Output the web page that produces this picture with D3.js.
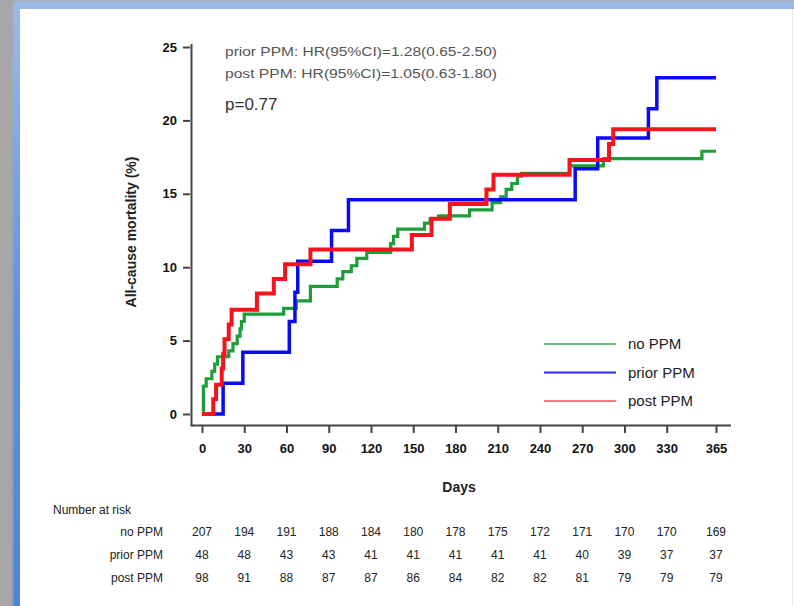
<!DOCTYPE html>
<html>
<head>
<meta charset="utf-8">
<script src="https://cdn.jsdelivr.net/npm/d3@7"></script>
<style>
  body { margin: 0; background: #fff; }
  svg { display: block; font-family: "Liberation Sans", Arial, sans-serif; }
</style>
</head>
<body>
<svg id="chart" width="794" height="606"></svg>
<script>
// ---- data ----
const dayTicks = [0, 30, 60, 90, 120, 150, 180, 210, 240, 270, 300, 330, 365];
const pctTicks = [0, 5, 10, 15, 20, 25];
const groups = ["no PPM", "prior PPM", "post PPM"];
const groupColors = ["#1e9e38", "#0a0af5", "#f5141e"];

// [day, cumulative mortality %]
const noPPM = [[0, 0], [1, 1.9], [3, 2.4], [7, 2.9], [9, 3.4], [11, 3.9], [19, 4.3], [22, 4.8],
  [25, 5.3], [27, 5.8], [28, 6.3], [30, 6.8], [58, 7.2], [67, 7.7], [77, 8.7], [96, 9.2],
  [100, 9.7], [106, 10.1], [110, 10.6], [117, 11.0], [134, 11.6], [136, 12.1], [139, 12.6],
  [158, 13.0], [162, 13.3], [168, 13.5], [190, 13.9], [206, 14.4], [212, 14.8], [216, 15.3],
  [220, 15.7], [224, 16.2], [227, 16.4], [261, 16.9], [285, 17.4], [355, 17.9], [365, 17.9]];
const priorPPM = [[0, 0], [15, 2.1], [29, 4.2], [62, 6.3], [66, 8.3], [68, 10.4], [92, 12.5],
  [104, 14.6], [265, 16.7], [281, 18.8], [317, 20.8], [323, 22.9], [365, 22.9]];
const postPPM = [[0, 0], [8, 1.0], [10, 2.0], [14, 3.1], [15, 4.1], [16, 5.1], [19, 6.1],
  [21, 7.1], [39, 8.2], [51, 9.2], [59, 10.2], [77, 11.2], [149, 12.2], [163, 13.3],
  [176, 14.3], [202, 15.3], [207, 16.3], [261, 17.3], [289, 18.4], [292, 19.4], [365, 19.4]];

const atRiskNo = [207, 194, 191, 188, 184, 180, 178, 175, 172, 171, 170, 170, 169];
const atRiskPrior = [48, 48, 43, 43, 41, 41, 41, 41, 41, 40, 39, 37, 37];
const atRiskPost = [98, 91, 88, 87, 87, 86, 84, 82, 82, 81, 79, 79, 79];

const hrLines = ["prior PPM:  HR(95%CI)=1.28(0.65-2.50)", "post PPM:  HR(95%CI)=1.05(0.63-1.80)"];
const pText = "p=0.77";

// ---- layout ----
const svg = d3.select("#chart");

// window frame around the figure
const defs = svg.append("defs");
const grad = defs.append("linearGradient").attr("id", "topband")
  .attr("x1", 0).attr("y1", 0).attr("x2", 0).attr("y2", 1);
grad.append("stop").attr("offset", "0").attr("stop-color", "#9dbbe8");
grad.append("stop").attr("offset", "0.5").attr("stop-color", "#5f93dc");
grad.append("stop").attr("offset", "1").attr("stop-color", "#4d84d6");
defs.append("filter").attr("id", "soft")
  .append("feGaussianBlur").attr("stdDeviation", 1.2);

svg.append("rect").attr("width", 794).attr("height", 606).attr("fill", "#a7a7a7");
svg.append("rect").attr("x", 13).attr("y", 1).attr("width", 800).attr("height", 620)
  .attr("rx", 4).attr("fill", "url(#topband)").attr("filter", "url(#soft)");
svg.append("rect").attr("x", 20).attr("y", 9).attr("width", 774).attr("height", 597)
  .attr("fill", "#fff");
svg.append("line").attr("x1", 792.5).attr("x2", 792.5).attr("y1", 9).attr("y2", 606)
  .attr("stroke", "#e6e6e6");

const x = d3.scaleLinear().domain([0, 365]).range([202, 716]);
const y = d3.scaleLinear().domain([0, 25]).range([414, 47]);

// axes
const axisColor = "#444";
svg.append("line").attr("x1", 191.5).attr("x2", 191.5).attr("y1", 44).attr("y2", 425.5)
  .attr("stroke", axisColor).attr("stroke-width", 2);
svg.append("line").attr("x1", 190.5).attr("x2", 731).attr("y1", 425.5).attr("y2", 425.5)
  .attr("stroke", axisColor).attr("stroke-width", 2);

const yAxis = svg.append("g").attr("transform", "translate(190,0)")
  .call(d3.axisLeft(y).tickValues(pctTicks).tickSize(7).tickPadding(6));
const xAxis = svg.append("g").attr("transform", "translate(0,426)")
  .call(d3.axisBottom(x).tickValues(dayTicks).tickSize(7).tickPadding(11));
[yAxis, xAxis].forEach(g => {
  g.select(".domain").remove();
  g.selectAll(".tick line").attr("stroke", axisColor).attr("stroke-width", 2);
  g.selectAll(".tick text").attr("fill", "#111").attr("font-size", 13)
    .attr("font-weight", "bold").attr("font-family", "Liberation Sans, Arial, sans-serif");
});

svg.append("text").attr("x", 459).attr("y", 492).attr("text-anchor", "middle")
  .attr("font-size", 14).attr("font-weight", "bold").attr("fill", "#222").text("Days");
svg.append("text").attr("transform", "translate(136,232) rotate(-90)")
  .attr("text-anchor", "middle").attr("font-size", 14).attr("font-weight", "bold")
  .attr("fill", "#222").text("All-cause mortality (%)");

// annotations
svg.selectAll("text.hr").data(hrLines).enter().append("text").attr("class", "hr")
  .attr("x", 225).attr("y", (d, i) => 56 + i * 22)
  .attr("font-size", 12).attr("fill", "#555")
  .attr("textLength", 272).attr("lengthAdjust", "spacingAndGlyphs").text(d => d);
svg.append("text").attr("x", 225).attr("y", 110).attr("font-size", 17)
  .attr("fill", "#333").text(pText);

// curves
const series = [noPPM, priorPPM, postPPM];
const widths = [3.2, 3.5, 4];
const line = d3.line().x(d => x(d[0])).y(d => y(d[1])).curve(d3.curveStepAfter);
svg.selectAll("path.km").data(series).enter().append("path").attr("class", "km")
  .attr("d", line).attr("fill", "none")
  .attr("stroke", (d, i) => groupColors[i]).attr("stroke-width", (d, i) => widths[i]);

// legend
const legendColors = ["#6cc07a", "#2b2bf0", "#ff7a7a"];
const leg = svg.selectAll("g.leg").data(groups).enter().append("g").attr("class", "leg")
  .attr("transform", (d, i) => `translate(544,${344 + i * 28.5})`);
leg.append("line").attr("x1", 0).attr("x2", 72).attr("stroke", (d, i) => legendColors[i])
  .attr("stroke-width", 2);
leg.append("text").attr("x", 84).attr("dy", "0.35em").attr("font-size", 15)
  .attr("fill", "#222").text(d => d);

// number at risk table
svg.append("text").attr("x", 53).attr("y", 514).attr("font-size", 12).attr("fill", "#222")
  .text("Number at risk");
const riskRows = [atRiskNo, atRiskPrior, atRiskPost];
riskRows.forEach((row, r) => {
  const ry = 532 + r * 23;
  svg.append("text").attr("x", 163).attr("y", ry).attr("dy", "0.35em")
    .attr("text-anchor", "end").attr("font-size", 12).attr("fill", "#222").text(groups[r]);
  svg.selectAll(null).data(row).enter().append("text")
    .attr("x", (d, i) => x(dayTicks[i])).attr("y", ry).attr("dy", "0.35em")
    .attr("text-anchor", "middle").attr("font-size", 12).attr("fill", "#222").text(d => d);
});
</script>
</body>
</html>
